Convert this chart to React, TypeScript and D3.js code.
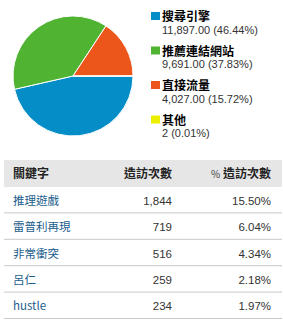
import React, { useMemo } from "react";
import * as d3 from "d3";

// traffic sources (pie + legend)
const sources = ["搜尋引擎", "推薦連結網站", "直接流量", "其他"];
const sourceVisits = [11897, 9691, 4027, 2];
const sourceValueLabels = ["11,897.00", "9,691.00", "4,027.00", "2"];
const sourcePct = ["46.44%", "37.83%", "15.72%", "0.01%"];
const sourceColors = ["#058dc7", "#50b432", "#ed561b", "#edef00"];

// keyword table
const keywords = ["推理遊戲", "雷普利再現", "非常衝突", "呂仁", "hustle"];
const keywordVisits = [1844, 719, 516, 259, 234];
const keywordPct = ["15.50%", "6.04%", "4.34%", "2.18%", "1.97%"];
const headers = ["關鍵字", "造訪次數", "% 造訪次數"];

const W = 283;
const H = 321;
const cjk = "'Noto Sans CJK TC', 'Liberation Sans', Arial, sans-serif";
const latin = "'Liberation Sans', Arial, 'Noto Sans CJK TC', sans-serif";

const App = () => {
  const cx = 73;
  const cy = 76;
  const r = 60;

  const arcs = useMemo(() => {
    const pie = d3
      .pie<number>()
      .sort(null)
      .startAngle(Math.PI / 2)
      .endAngle(Math.PI / 2 + 2 * Math.PI)
      .value((d) => d);
    return pie(sourceVisits);
  }, []);

  const arc = d3.arc<d3.PieArcDatum<number>>().innerRadius(0).outerRadius(r);

  const legendY = d3.scaleBand().domain(sources).range([4, 142]);

  const rowY = d3.scaleBand().domain(keywords).range([187, 319]);
  const fmt = d3.format(",");

  const headTop = 160;
  const headBottom = 187;
  const left = 4;
  const right = 282;

  return (
    <div style={{ position: "absolute", left: 0, top: 0 }}>
      <svg width={W} height={H} style={{ display: "block", background: "#fff" }}>
        <g transform={`translate(${cx},${cy})`}>
          {arcs.map((a, i) => (
            <path
              key={i}
              d={arc(a) || ""}
              fill={sourceColors[i]}
              stroke="#fff"
              strokeWidth={1}
              strokeLinejoin="round"
            />
          ))}
        </g>

        <g className="legend">
          {sources.map((s, i) => {
            const y0 = legendY(s) as number;
            return (
              <g key={s}>
                <rect x={151} y={y0 + 8} width={9} height={8} fill={sourceColors[i]} />
                <text
                  x={162}
                  y={y0 + 17}
                  fontFamily={cjk}
                  fontWeight="bold"
                  fontSize={12}
                  fill="#000"
                >
                  {s}
                </text>
                <text x={162} y={y0 + 29.5} fontFamily={latin} fontSize={11} fill="#333">
                  {sourceValueLabels[i]} ({sourcePct[i]})
                </text>
              </g>
            );
          })}
        </g>

        <g className="table">
          <rect x={left} y={headTop} width={right - left} height={headBottom - headTop} fill="#e6e6e6" />
          <text x={13} y={178} fontFamily={cjk} fontWeight="bold" fontSize={12} fill="#222">
            {headers[0]}
          </text>
          <text x={172} y={178} textAnchor="end" fontFamily={cjk} fontWeight="bold" fontSize={12} fill="#222">
            {headers[1]}
          </text>
          <text x={271} y={178} textAnchor="end" fontFamily={cjk} fontWeight="bold" fontSize={12} fill="#222">
            <tspan fontWeight="normal" fontSize={10} fill="#444">%</tspan> {headers[2].slice(2)}
          </text>
          {keywords.map((k, i) => {
            const y0 = rowY(k) as number;
            const bw = rowY.bandwidth();
            const base = y0 + bw / 2 + 4.5;
            return (
              <g key={k}>
                <text x={13} y={base} fontFamily={cjk} fontSize={11.5} fill="#1b5d8c">
                  {k}
                </text>
                <text x={172} y={base} textAnchor="end" fontFamily={latin} fontSize={11.5} fill="#333">
                  {fmt(keywordVisits[i])}
                </text>
                <text x={271} y={base} textAnchor="end" fontFamily={latin} fontSize={11.5} fill="#333">
                  {keywordPct[i]}
                </text>
                <line x1={left} x2={right} y1={y0 + bw - 0.5} y2={y0 + bw - 0.5} stroke="#c8c8c8" strokeWidth={1} />
              </g>
            );
          })}
        </g>
      </svg>
    </div>
  );
};

export default App;
